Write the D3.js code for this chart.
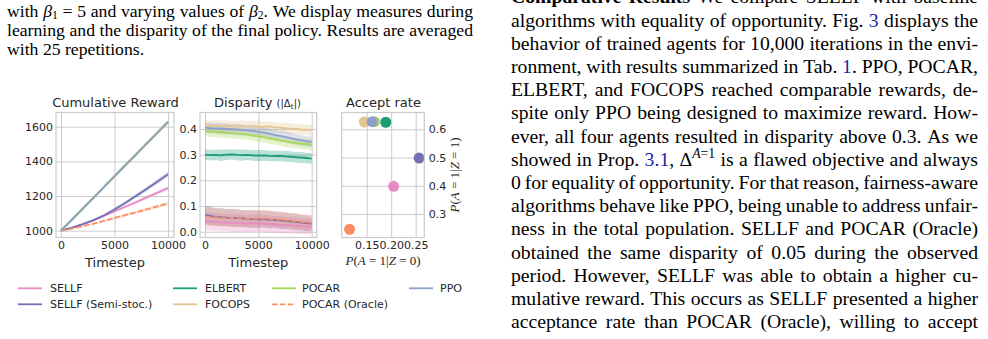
<!DOCTYPE html>
<html><head><meta charset="utf-8">
<script src="https://cdn.jsdelivr.net/npm/d3@7"></script>
<style>
html,body{margin:0;padding:0;background:#fff;width:988px;height:339px;overflow:hidden;}
svg{position:absolute;left:0;top:0;}
</style>
</head><body>
<script>
// ---------------- DATA ----------------
const seriesNames = ["SELLF","SELLF (Semi-stoc.)","ELBERT","FOCOPS","POCAR","POCAR (Oracle)","PPO"];
const seriesColors = ["#e78ac3","#7570b3","#1b9e77","#e5c494","#a6d854","#fc8d62","#8da0cb"];
const seriesDashed = [false,false,false,false,false,true,false];

// Cumulative reward (mean, band half-width)
const rewardSteps = [0,1000,2000,3000,4000,5000,6000,7000,8000,9000,10000];
const rewardSELLF  = [1000,1018,1038,1060,1085,1112,1138,1164,1192,1219,1246];
const rewardSemi   = [1000,1016,1036,1060,1088,1122,1160,1200,1240,1283,1326];
const rewardELBERT = [1000,1063,1126,1189,1252,1315,1378,1441,1504,1566,1629];
const rewardFOCOPS = [1000,1063,1126,1190,1253,1316,1380,1443,1506,1568,1631];
const rewardPOCAR  = [1000,1062,1125,1188,1251,1314,1377,1440,1502,1565,1627];
const rewardOracle = [1000,1012,1025,1040,1056,1073,1090,1106,1123,1140,1157];
const rewardPPO    = [1000,1062,1125,1187,1250,1313,1376,1438,1501,1563,1626];
const rewardSpreadSELLF  = [0,3,4,5,6,7,8,9,10,11,12];
const rewardSpreadSemi   = [0,4,6,8,9,10,11,12,13,14,15];
const rewardSpreadOracle = [0,3,4,5,6,7,8,8,9,10,10];
const rewardSpreadGroup  = [0,1,2,2,3,3,4,4,5,5,6];

// Disparity |Delta_t|
const dispSteps = [0,500,1000,1500,2000,2500,3000,3500,4000,4500,5000,5500,6000,6500,7000,7500,8000,8500,9000,9500,10000];
const dispSELLF  = [0.042,0.040,0.038,0.036,0.035,0.034,0.034,0.033,0.032,0.033,0.032,0.031,0.030,0.029,0.027,0.026,0.025,0.024,0.022,0.021,0.020];
const dispSemi   = [0.065,0.062,0.058,0.057,0.055,0.054,0.053,0.052,0.050,0.049,0.048,0.049,0.047,0.046,0.044,0.042,0.040,0.038,0.035,0.033,0.032];
const dispELBERT = [0.300,0.298,0.299,0.297,0.300,0.301,0.299,0.298,0.299,0.297,0.296,0.297,0.295,0.294,0.295,0.293,0.292,0.290,0.289,0.287,0.285];
const dispFOCOPS = [0.415,0.412,0.414,0.410,0.413,0.411,0.409,0.412,0.410,0.411,0.409,0.408,0.410,0.406,0.405,0.403,0.401,0.400,0.398,0.397,0.396];
const dispPOCAR  = [0.392,0.390,0.389,0.388,0.386,0.384,0.382,0.381,0.378,0.374,0.371,0.368,0.364,0.360,0.356,0.352,0.349,0.346,0.343,0.341,0.338];
const dispOracle = [0.060,0.058,0.056,0.055,0.054,0.053,0.052,0.051,0.050,0.050,0.051,0.052,0.050,0.049,0.047,0.045,0.043,0.041,0.038,0.036,0.035];
const dispPPO    = [0.405,0.403,0.402,0.401,0.400,0.399,0.398,0.396,0.395,0.392,0.389,0.386,0.382,0.377,0.373,0.369,0.364,0.360,0.356,0.352,0.350];
const dispSpreadLow  = [0.035,0.036,0.034,0.035,0.033,0.034,0.035,0.033,0.034,0.035,0.034,0.033,0.034,0.032,0.033,0.032,0.031,0.032,0.030,0.031,0.030];
const dispSpreadHigh = [0.020,0.021,0.020,0.022,0.021,0.020,0.021,0.022,0.020,0.021,0.022,0.021,0.020,0.021,0.020,0.022,0.021,0.020,0.021,0.020,0.021];

// Accept rate (final policy)
const acceptZ0 = [0.205,0.257,0.189,0.145,0.166,0.115,0.161];
const acceptZ1 = [0.398,0.498,0.625,0.626,0.627,0.246,0.627];

// Tick values
const stepTicks = [0,5000,10000];
const rewardTicks = [1000,1200,1400,1600];
const dispTicks = [0.0,0.1,0.2,0.3,0.4];
const acceptXTicks = [0.15,0.20,0.25];
const acceptYTicks = [0.3,0.4,0.5,0.6];

// Surrounding text
const captionLines = [
  "with {i:β}{s:1} = 5 and varying values of {i:β}{s:2}. We display measures during",
  "learning and the disparity of the final policy. Results are averaged",
  "with 25 repetitions."
];
const bodyLines = [
  "{b:Comparative} {b:Results}   We compare SELLF with baseline",
  "algorithms with equality of opportunity. Fig. {l:3} displays the",
  "behavior of trained agents for 10,000 iterations in the envi-",
  "ronment, with results summarized in Tab. {l:1}. PPO, POCAR,",
  "ELBERT, and FOCOPS reached comparable rewards, de-",
  "spite only PPO being designed to maximize reward. How-",
  "ever, all four agents resulted in disparity above 0.3. As we",
  "showed in Prop. {l:3.1}, Δ{p:A=1} is a flawed objective and always",
  "0 for equality of opportunity. For that reason, fairness-aware",
  "algorithms behave like PPO, being unable to address unfair-",
  "ness in the total population. SELLF and POCAR (Oracle)",
  "obtained the same disparity of 0.05 during the observed",
  "period. However, SELLF was able to obtain a higher cu-",
  "mulative reward. This occurs as SELLF presented a higher",
  "acceptance rate than POCAR (Oracle), willing to accept"
];

// ---------------- DRAW ----------------
const svg = d3.select("body").append("svg").attr("width",988).attr("height",339);
const TOP = 112.5, BOT = 237.5;
const TXT = "#262626", GRID = "#cccccc";
const SANS = "DejaVu Sans";
const TICK_SIZE = 11;

const rewardSeries = [rewardSELLF,rewardSemi,rewardELBERT,rewardFOCOPS,rewardPOCAR,rewardOracle,rewardPPO];
const rewardSpreads = [rewardSpreadSELLF,rewardSpreadSemi,rewardSpreadGroup,rewardSpreadGroup,rewardSpreadGroup,rewardSpreadOracle,rewardSpreadGroup];
const dispSeries = [dispSELLF,dispSemi,dispELBERT,dispFOCOPS,dispPOCAR,dispOracle,dispPPO];
const dispSpreads = [dispSpreadLow,dispSpreadLow,dispSpreadHigh,dispSpreadHigh,dispSpreadHigh,dispSpreadLow,dispSpreadHigh];

function styleAxis(g){
  g.select(".domain").remove();
  g.selectAll(".tick line").attr("stroke",GRID).attr("stroke-width",1);
  g.attr("font-family",SANS).attr("font-size",TICK_SIZE);
  g.selectAll(".tick text").attr("fill",TXT);
}

function panel(x, y, left, right, xt, xf, yt, yf, yRight){
  const g = svg.append("g");
  const gx = g.append("g").attr("transform",`translate(0,${BOT})`)
    .call(d3.axisBottom(x).tickValues(xt).tickFormat(xf).tickSize(-(BOT-TOP)).tickPadding(3.5));
  styleAxis(gx);
  if(yRight){
    const gy = g.append("g").attr("transform",`translate(${right},0)`)
      .call(d3.axisRight(y).tickValues(yt).tickFormat(yf).tickSize(-(right-left)).tickPadding(4.5));
    styleAxis(gy);
  } else {
    const gy = g.append("g").attr("transform",`translate(${left},0)`)
      .call(d3.axisLeft(y).tickValues(yt).tickFormat(yf).tickSize(-(right-left)).tickPadding(3));
    styleAxis(gy);
  }
  const plot = g.append("g");
  g.append("rect").attr("x",left).attr("y",TOP).attr("width",right-left).attr("height",BOT-TOP)
    .attr("fill","none").attr("stroke",GRID).attr("stroke-width",1.25);
  return plot;
}

// Panel 1: cumulative reward
const x1 = d3.scaleLinear().domain([0,10000]).range([61,168]);
const y1 = d3.scaleLinear().domain([1000,1600]).range([230.7,126.7]);
const p1 = panel(x1,y1,56,174,stepTicks,d3.format("d"),rewardTicks,d3.format("d"),false);
rewardSeries.forEach((s,k)=>{
  const sp = rewardSpreads[k];
  const area = d3.area().x((d,i)=>x1(rewardSteps[i])).y0((d,i)=>y1(d-sp[i])).y1((d,i)=>y1(d+sp[i]));
  p1.append("path").attr("d",area(s)).attr("fill",seriesColors[k]).attr("fill-opacity",0.25);
});
rewardSeries.forEach((s,k)=>{
  const line = d3.line().x((d,i)=>x1(rewardSteps[i])).y(d=>y1(d));
  p1.append("path").attr("d",line(s)).attr("fill","none").attr("stroke",seriesColors[k])
    .attr("stroke-width",1.8).attr("stroke-dasharray",seriesDashed[k]?"5.5,2.4":null);
});

// Panel 2: disparity
const x2 = d3.scaleLinear().domain([0,10000]).range([205,311.7]);
const y2 = d3.scaleLinear().domain([0,0.4]).range([231.7,129]);
const p2 = panel(x2,y2,200,316.7,stepTicks,d3.format("d"),dispTicks,d3.format(".1f"),false);
dispSeries.forEach((s,k)=>{
  const sp = dispSpreads[k];
  const area = d3.area().x((d,i)=>x2(dispSteps[i])).y0((d,i)=>y2(d-sp[i])).y1((d,i)=>y2(d+sp[i]));
  p2.append("path").attr("d",area(s)).attr("fill",seriesColors[k]).attr("fill-opacity",0.3);
});
dispSeries.forEach((s,k)=>{
  const line = d3.line().x((d,i)=>x2(dispSteps[i])).y(d=>y2(d));
  p2.append("path").attr("d",line(s)).attr("fill","none").attr("stroke",seriesColors[k])
    .attr("stroke-width",1.8).attr("stroke-dasharray",seriesDashed[k]?"5.5,2.4":null);
});

// Panel 3: accept rate
const x3 = d3.scaleLinear().domain([0.15,0.25]).range([366.7,415.7]);
const y3 = d3.scaleLinear().domain([0.3,0.6]).range([214,129.3]);
const p3 = panel(x3,y3,341.7,424.3,acceptXTicks,d3.format(".2f"),acceptYTicks,d3.format(".1f"),true);
acceptZ0.forEach((v,k)=>{
  p3.append("circle").attr("cx",x3(v)).attr("cy",y3(acceptZ1[k])).attr("r",5.5).attr("fill",seriesColors[k]);
});

// Titles and axis labels
function sansText(x,y,t,size){
  return svg.append("text").attr("x",x).attr("y",y).attr("text-anchor","middle")
    .attr("font-family",SANS).attr("font-size",size).attr("fill",TXT).text(t);
}
sansText(115.5,107,"Cumulative Reward",13);
const dt = svg.append("text").attr("x",257.5).attr("y",107).attr("text-anchor","middle")
  .attr("font-family",SANS).attr("font-size",13).attr("fill",TXT);
dt.append("tspan").text("Disparity ");
dt.append("tspan").attr("font-size",10).text("(|Δ");
dt.append("tspan").attr("font-size",7.5).attr("dy",2).text("t");
dt.append("tspan").attr("font-size",10).attr("dy",-2).text("|)");
sansText(383.5,107,"Accept rate",13);
sansText(115,266.5,"Timestep",13);
sansText(258.3,266.5,"Timestep",13);

function mathLabel(sel, last){
  sel.attr("font-family","Liberation Serif").attr("font-size",13).attr("fill",TXT).attr("text-anchor","middle");
  sel.append("tspan").attr("font-style","italic").text("P");
  sel.append("tspan").text("(");
  sel.append("tspan").attr("font-style","italic").text("A");
  sel.append("tspan").text(" = 1|");
  sel.append("tspan").attr("font-style","italic").text("Z");
  sel.append("tspan").text(" = " + last + ")");
}
mathLabel(svg.append("text").attr("x",383).attr("y",265), "0");
mathLabel(svg.append("text").attr("transform","translate(459,175) rotate(-90)"), "1");

// Legend
const legCols = [[18,50],[173,205],[272,302],[409,440]];
const legRows = [288.3,304.3];
seriesNames.forEach((n,k)=>{
  const c = legCols[Math.floor(k/2)], r = legRows[k%2];
  svg.append("line").attr("x1",c[0]).attr("x2",c[0]+24).attr("y1",r).attr("y2",r)
    .attr("stroke",seriesColors[k]).attr("stroke-width",1.8)
    .attr("stroke-dasharray",seriesDashed[k]?"5.5,2.4":null);
  svg.append("text").attr("x",c[1]).attr("y",r+4).attr("font-family",SANS).attr("font-size",11)
    .attr("fill",TXT).text(n);
});

// ---------------- Surrounding text ----------------
function renderLines(lines, x0, W, y0, dy, size, justifyAll){
  lines.forEach((ln, li)=>{
    const words = ln.split(/ +/);
    const g = svg.append("g");
    const els = words.map(w=>{
      const t = g.append("text").attr("y",y0+li*dy).attr("font-family","Liberation Serif")
        .attr("font-size",size).attr("fill","#000");
      const re = /\{(\w):([^}]*)\}|[^{]+/g;
      let m, off = 0;
      while((m = re.exec(w))){
        const type = m[1], txt = m[1]?m[2]:m[0];
        let target = 0;
        if(type==="s") target = size*0.1;
        if(type==="p") target = -size*0.4;
        const dyv = target - off; off = target;
        if(type==="p"){
          for(const ch of txt){
            const ts = t.append("tspan").attr("font-size",size*0.7).text(ch);
            if(/[A-Za-z]/.test(ch)) ts.attr("font-style","italic");
            if(dyv && ch===txt[0]) ts.attr("dy",dyv);
          }
          continue;
        }
        const ts = t.append("tspan").text(txt);
        if(dyv) ts.attr("dy",dyv);
        if(type==="i") ts.attr("font-style","italic");
        if(type==="b") ts.attr("font-weight","bold");
        if(type==="l") ts.attr("fill","#2323a8");
        if(type==="s") ts.attr("font-size",size*0.66);
      }
      return t;
    });
    const widths = els.map(e=>e.node().getComputedTextLength());
    const total = d3.sum(widths);
    const justify = justifyAll || li < lines.length-1;
    let gap = (justify && words.length>1) ? (W-total)/(words.length-1) : size*0.25;
    gap = Math.max(gap, size*0.15);
    let x = x0;
    els.forEach((e,i)=>{ e.attr("x",x); x += widths[i]+gap; });
  });
}
renderLines(captionLines, 7, 466, 17, 19, 17.7, false);
renderLines(bodyLines, 511, 467, 3.3, 23.2, 19.7, true);
</script>
</body></html>
